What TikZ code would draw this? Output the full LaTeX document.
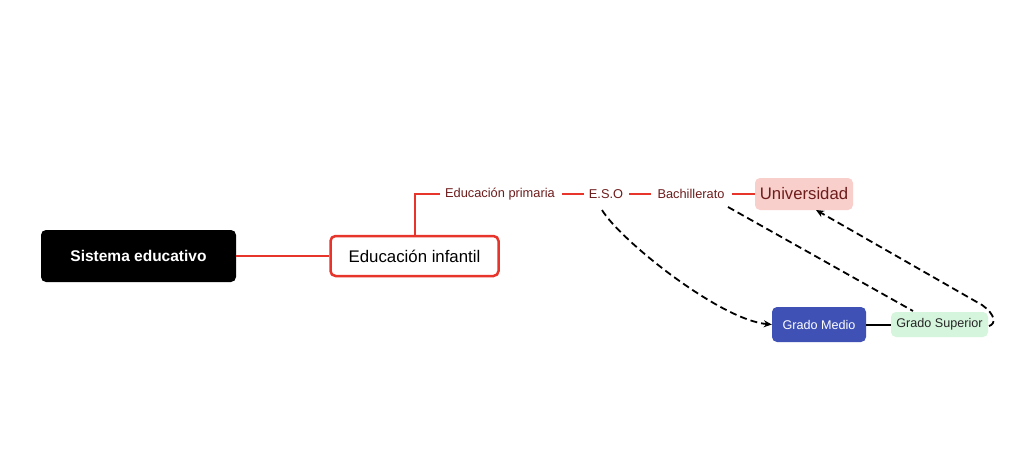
\documentclass[tikz,border=0pt]{standalone}
\usepackage{fontspec}
\setmainfont{Liberation Sans}
\usetikzlibrary{arrows.meta}
\definecolor{tred}{HTML}{E8352B}
\definecolor{dred}{HTML}{6E1C1C}
\definecolor{upink}{HTML}{F8CFCB}
\definecolor{gblue}{HTML}{3F51B5}
\definecolor{ggreen}{HTML}{D5F5DC}
\tikzset{
  base/.style={rounded corners=5pt, inner sep=0pt, align=center},
  sublabel/.style={text=dred, font=\fontsize{12.8}{14}\selectfont, inner sep=0pt},
  redline/.style={draw=tred, line width=2pt},
  dashline/.style={draw=black, line width=1.8pt, dash pattern=on 7pt off 4pt},
  tip/.style={-{Stealth[length=8pt,width=7pt]}}
}
\begin{document}
\begin{tikzpicture}[x=1pt,y=-1pt]
\useasboundingbox (0,0) rectangle (1024,465);
\fill[white] (0,0) rectangle (1024,465);
\node[base, fill=black, text=white, font=\bfseries\fontsize{15.5}{17}\selectfont, minimum width=195pt, minimum height=52pt] (sis) at (138.5,256) {Sistema educativo};
\node[base, draw=tred, line width=2.5pt, fill=white, font=\fontsize{16.8}{19}\selectfont, minimum width=168pt, minimum height=40pt] (inf) at (414.5,256) {Educación infantil};
\node[sublabel, anchor=west] (pri) at (445,194) {Educación primaria};
\node[sublabel] (eso) at (606,194) {E.S.O};
\node[sublabel] (bach) at (691,194) {Bachillerato};
\node[base, fill=upink, text=dred, font=\fontsize{16.7}{19}\selectfont, minimum width=98pt, minimum height=32pt] (uni) at (804,194) {Universidad};
\node[base, fill=gblue, text=white, font=\fontsize{12.6}{14}\selectfont, minimum width=94pt, minimum height=35pt] (gm) at (819,324.5) {Grado Medio};
\node[base, fill=ggreen, text=black!85, font=\fontsize{12.6}{14}\selectfont, minimum width=97pt, minimum height=25pt] (gs) at (939.5,324.5) {Grado Superior};

\draw[redline] (sis.east) -- (inf.west);
\draw[redline] (inf.north) |- ([xshift=-5pt]pri.west);
\draw[redline] ([xshift=7pt]pri.east) -- ([xshift=-5pt]eso.west);
\draw[redline] ([xshift=6pt]eso.east) -- ([xshift=-6pt]bach.west);
\draw[redline] ([xshift=7pt]bach.east) -- (uni.west);
\draw[line width=2pt] (gm.east) -- (gs.west);

\coordinate (esob) at (602,210);
\coordinate (bachb) at (728,207);
\coordinate (gst) at (913,311);
\coordinate (gsr) at (989,326);
\coordinate (unib) at (816,210);
\draw[dashline, tip] (esob) .. controls (620,240) and (720,320) .. (gm.west);
\draw[dashline] (bachb) -- (gst);
\draw[dashline, tip] (gsr) .. controls (996,324) and (996,315) .. (982,305) -- (unib);
\end{tikzpicture}
\end{document}
